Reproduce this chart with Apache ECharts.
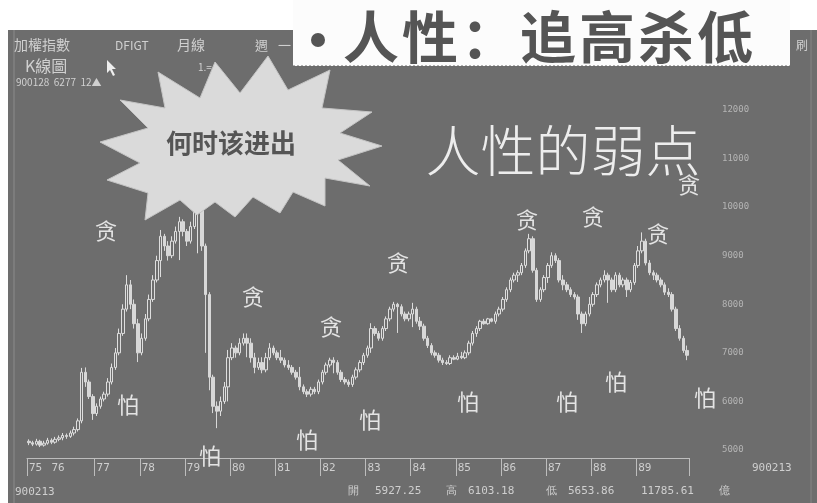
<!DOCTYPE html>
<html><head><meta charset="utf-8">
<script src="https://cdn.jsdelivr.net/npm/echarts@6/dist/echarts.min.js"></script>
<style>html,body{margin:0;padding:0;background:#fff}#c{width:817px;height:503px}</style>
</head><body><div id="c"></div>
<script>
// ---- data (monthly, 1975-07 .. 1990-02) ----
const opens = [
 5180,5150,5120,5180,5100,5140,
 5200,5160,5220,5250,5300,5280,5350,5420,5600,6600,6400,6100,
 5750,5900,6050,6150,6400,6700,7000,7400,7900,8400,8000,7600,
 7000,7300,7700,8100,8500,8900,9400,9200,9000,9300,9500,9700,
 9500,9300,9600,9900,10000,9200,8200,6500,5900,5800,6000,6300,
 6900,7100,7000,7200,7300,7200,6900,6700,6800,6650,6900,7100,
 7000,6900,6850,6750,6700,6600,6500,6300,6200,6150,6250,6200,
 6400,6600,6750,6850,6800,6600,6450,6400,6350,6500,6650,6800,
 6950,7100,7500,7400,7300,7500,7700,7900,8000,7950,7800,7700,
 7800,7900,7650,7550,7300,7150,7000,6950,6850,6800,6780,6900,
 6870,6930,6900,7000,7200,7400,7500,7650,7600,7700,7650,7800,
 7900,8100,8300,8500,8600,8650,8800,9100,9350,8700,8100,8300,
 8550,8800,9000,8900,8500,8400,8300,8200,8150,7800,7600,7800,
 8000,8200,8400,8500,8600,8500,8300,8600,8400,8500,8300,8450,
 8800,9100,9300,8850,8650,8600,8500,8400,8250,8200,7900,7500,
 7300,7050
];
const closes = [
 5150,5120,5180,5100,5140,5200,
 5160,5220,5250,5300,5280,5350,5420,5600,6600,6400,6100,5750,
 5900,6050,6150,6400,6700,7000,7400,7900,8400,8000,7600,7000,
 7300,7700,8100,8500,8900,9400,9200,9000,9300,9500,9700,9500,
 9300,9600,9900,10000,9200,8200,6500,5900,5800,6000,6300,6900,
 7100,7000,7200,7300,7200,6900,6700,6800,6650,6900,7100,7000,
 6900,6850,6750,6700,6600,6500,6300,6200,6150,6250,6200,6400,
 6600,6750,6850,6800,6600,6450,6400,6350,6500,6650,6800,6950,
 7100,7500,7400,7300,7500,7700,7900,8000,7950,7800,7700,7800,
 7900,7650,7550,7300,7150,7000,6950,6850,6800,6780,6900,6870,
 6930,6900,7000,7200,7400,7500,7650,7600,7700,7650,7800,7900,
 8100,8300,8500,8600,8650,8800,9100,9350,8700,8100,8300,8550,
 8800,9000,8900,8500,8400,8300,8200,8150,7800,7600,7800,8000,
 8200,8400,8500,8600,8500,8300,8600,8400,8500,8300,8450,8800,
 9100,9300,8850,8650,8600,8500,8400,8250,8200,7900,7500,7300,
 7050,6950
];
const lows = [
 5100,5080,5090,5060,5070,5110,
 5120,5130,5180,5200,5230,5250,5300,5380,5550,6300,6050,5620,
 5700,5850,6000,6100,6350,6650,6950,7350,7850,7900,7500,6810,
 6950,7250,7650,8050,8450,8560,9100,8900,8950,9250,8910,9400,
 9200,9250,9550,9050,9100,7000,6230,5760,5450,5700,5950,6000,
 6850,6900,6950,7150,6910,6800,6580,6650,6580,6600,6850,6950,
 6850,6790,6700,6650,6550,6450,6230,6150,6090,6100,6150,6150,
 6350,6550,6700,6580,6550,6400,6350,6300,6300,6450,6600,6750,
 6900,7000,7350,7250,7250,7450,7650,7850,7410,7750,7650,7650,
 7530,7600,7470,7250,7100,6950,6900,6800,6750,6750,6750,6850,
 6850,6870,6870,6950,7150,7330,7450,7580,7580,7630,7600,7750,
 7850,8050,8250,8450,8460,8600,8750,9050,8650,8050,8050,8250,
 8440,8750,8850,8450,8290,8250,8150,8100,7680,7410,7550,7750,
 7950,8150,8350,8450,8030,8250,8250,8350,8350,8150,8250,8400,
 8750,9050,8800,8600,8500,8450,8350,8190,8150,7850,7450,7250,
 7000,6850
];
const highs = [
 5220,5190,5230,5210,5190,5250,
 5240,5270,5300,5350,5340,5400,5480,5650,6690,6700,6450,6150,
 5960,6100,6200,6480,6780,7100,7500,8000,8600,8500,8100,7700,
 7400,7800,8200,8600,9000,9530,9450,9300,9400,9600,9800,9750,
 9550,9700,10000,10150,10050,9250,8250,6550,6000,6100,6400,7060,
 7200,7150,7300,7400,7400,7300,7000,6900,6910,7000,7200,7150,
 7050,7060,6900,6850,6750,6650,6710,6350,6250,6300,6300,6450,
 6650,6800,6900,6910,6850,6650,6500,6450,6550,6700,6850,7000,
 7150,7610,7550,7450,7550,7750,7950,8050,8030,8000,7850,7850,
 8030,7950,7740,7600,7350,7200,7050,7000,6900,6850,6950,6950,
 7000,7020,7050,7250,7450,7550,7680,7700,7720,7720,7850,7950,
 8150,8350,8550,8650,8700,8850,9150,9450,9400,8750,8350,8600,
 8850,9070,9050,8950,8600,8460,8350,8250,8200,7850,7850,8150,
 8250,8450,8550,8700,8650,8550,8660,8650,8550,8550,8500,8850,
 9200,9480,9350,8910,8700,8650,8550,8450,8330,8250,7950,7570,
 7350,7150
];
const yTicks = [5000, 6000, 7000, 8000, 9000, 10000, 11000, 12000];
const greedText = '贪';
const fearText = '怕';
const titleChars = ['人', '性', '：', '追', '高', '杀', '低'];

// month categories YYMM
const months = [];
{ let y = 75, m = 7; while (y < 90 || (y === 90 && m <= 2)) { months.push(String(y) + String(m).padStart(2, '0')); m++; if (m > 12) { m = 1; y++; } } }
const candleData = months.map((_, i) => [opens[i], closes[i], lows[i], highs[i]]);
const isYearMark = (i, v) => i === 0 || (v.endsWith('01') && v.slice(0, 2) !== '90');

// ---- layout / decoration (positions in px) ----
const BG = '#6d6d6d';
const LT = '#e4e4e4';
const greedPos = [[106,231],[253,297],[331,327],[398,263],[527,220],[593,217],[658,234],[689,185]];
const fearPos = [[128,405],[210,456],[307,440],[370,420],[468,402],[567,402],[616,382],[705,398]];
const starPts = [[100,142],[148,128],[120,100],[165,108],[158,72],[200,98],[215,62],[240,93],[268,56],[288,90],[330,70],[322,108],[372,112],[340,133],[382,146],[338,160],[370,186],[325,178],[325,206],[293,192],[280,213],[253,197],[235,217],[215,202],[197,215],[180,200],[145,220],[148,193],[107,180],[140,163]];

const g = [];
g.push({type:'rect', z:50, shape:{x:0,y:0,width:8,height:503}, style:{fill:'#fff'}});
g.push({type:'rect', z:50, shape:{x:0,y:0,width:817,height:30}, style:{fill:'#fff'}});
g.push({type:'line', z:1, shape:{x1:14,y1:30,x2:14,y2:503}, style:{stroke:'#8c8c8c', lineWidth:1}});
g.push({type:'line', z:1, shape:{x1:811,y1:30,x2:811,y2:503}, style:{stroke:'#858585', lineWidth:1}});
// header texts
const hdr = (t,x,y,fs) => g.push({type:'text', z:60, style:{text:t, x:x, y:y, fill:'#d0d0d0', font:`${fs}px "Noto Sans CJK TC", sans-serif`, textVerticalAlign:'middle'}});
hdr('加權指數', 14, 45, 14);
hdr('DFIGT', 115, 45, 12);
hdr('月線', 177, 45, 14);
hdr('週', 255, 45, 13);
hdr('一', 278, 45, 13);
hdr('刷', 796, 45, 12);
hdr('K線圖', 25, 66, 16);
hdr('1.=', 198, 67, 10);
hdr('900128  6277  12▲', 16, 82, 10);
g.push({type:'polygon', z:60, shape:{points:[[107,60],[107,73],[110,70],[113,76],[115,75],[112,69],[116,69]]}, style:{fill:'#eee'}});
// title box
g.push({type:'rect', z:70, shape:{x:293,y:0,width:497,height:66}, style:{fill:'#fcfcfc'}});
g.push({type:'line', z:71, shape:{x1:293,y1:66,x2:790,y2:66}, style:{stroke:'#666', lineWidth:1, lineDash:[2,2]}});
g.push({type:'circle', z:72, shape:{cx:318,cy:40,r:7}, style:{fill:'#555'}});
titleChars.forEach((c, k) => g.push({type:'text', z:72, style:{text:c, x:371 + 59 * k, y:37, fill:'#555', font:'bold 56px "Noto Sans CJK SC", sans-serif', textAlign:'center', textVerticalAlign:'middle'}}));
// starburst
g.push({type:'polygon', z:65, shape:{points:starPts}, style:{fill:'#dadada', stroke:'#c4c4c4', lineWidth:1}});
g.push({type:'text', z:66, style:{text:'何时该进出', x:231, y:143, fill:'#555', font:'bold 26px "Noto Sans CJK SC", sans-serif', textAlign:'center', textVerticalAlign:'middle'}});
g.push({type:'text', z:66, style:{text:'人性的弱点', x:563, y:150, fill:'#ededed', font:'300 55px "Noto Sans CJK SC", sans-serif', textAlign:'center', textVerticalAlign:'middle'}});
greedPos.forEach(p => g.push({type:'text', z:66, style:{text:greedText, x:p[0], y:p[1], fill:LT, font:'22px "Noto Sans CJK SC", sans-serif', textAlign:'center', textVerticalAlign:'middle'}}));
fearPos.forEach(p => g.push({type:'text', z:66, style:{text:fearText, x:p[0], y:p[1], fill:LT, font:'22px "Noto Sans CJK SC", sans-serif', textAlign:'center', textVerticalAlign:'middle'}}));
// bottom status texts
const mono = (t,x,y) => g.push({type:'text', z:60, style:{text:t, x:x, y:y, fill:'#cfcfcf', font:'11px "DejaVu Sans Mono", monospace', textVerticalAlign:'middle'}});
mono('900213', 15, 492);
mono('900213', 752, 468);
mono('開', 348, 491); mono('5927.25', 375, 491);
mono('高', 446, 491); mono('6103.18', 468, 491);
mono('低', 546, 491); mono('5653.86', 568, 491);
mono('11785.61', 641, 491); mono('億', 719, 491);

const chart = echarts.init(document.getElementById('c'), null, {renderer:'canvas'});
chart.setOption({
  animation: false,
  backgroundColor: BG,
  grid: {left: 27, right: 128, top: 110, bottom: 53},
  xAxis: {
    type: 'category', data: months, boundaryGap: true, offset: 8,
    axisLine: {lineStyle: {color: '#bdbdbd', width: 1}},
    axisTick: {show: true, length: 18, interval: (i, v) => isYearMark(i, v) && v !== '7601', lineStyle: {color: '#bdbdbd'}},
    axisLabel: {interval: (i, v) => isYearMark(i, v), formatter: v => v.slice(0, 2), color: '#cfcfcf', fontSize: 11, align: 'left', margin: 5, fontFamily: 'DejaVu Sans Mono'},
    splitLine: {show: false}
  },
  yAxis: {
    type: 'value', position: 'right', min: yTicks[0], max: yTicks[yTicks.length - 1], interval: 1000,
    axisLine: {show: false}, axisTick: {show: false}, splitLine: {show: false},
    axisLabel: {color: '#b4b4b4', fontSize: 9, margin: 33, fontFamily: 'DejaVu Sans Mono', formatter: v => String(v)}
  },
  series: [{
    type: 'candlestick', data: candleData, barWidth: 3,
    itemStyle: {color: BG, color0: '#d8d8d8', borderColor: '#dedede', borderColor0: '#d8d8d8', borderWidth: 1}
  }],
  graphic: {elements: g}
});
</script></body></html>
